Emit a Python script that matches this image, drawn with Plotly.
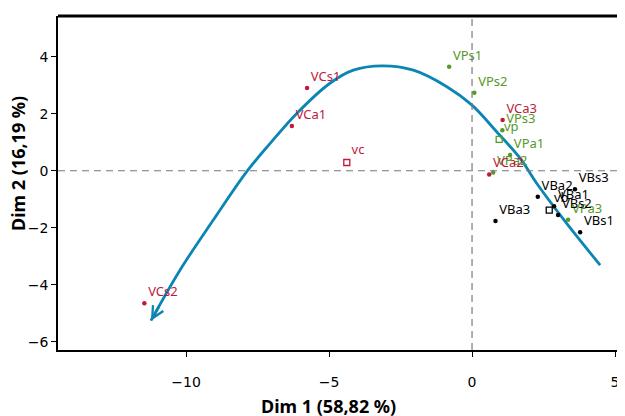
import plotly.graph_objects as go

# ---- data ----
red_names = ["VCs1", "VCa1", "VCa3", "VCa2", "VCs2"]
red_x = [-5.77, -6.30, 1.07, 0.60, -11.46]
red_y = [2.90, 1.57, 1.78, -0.13, -4.65]

green_names = ["VPs1", "VPs2", "VPs3", "VPa1", "VPa2", "VPa3"]
green_x = [-0.80, 0.08, 1.06, 1.33, 0.74, 3.36]
green_y = [3.65, 2.74, 1.42, 0.55, -0.06, -1.72]

black_names = ["VBa1", "VBa2", "VBa3", "VBs1", "VBs2", "VBs3"]
black_x = [2.87, 2.30, 0.82, 3.78, 3.01, 3.60]
black_y = [-1.25, -0.91, -1.76, -2.16, -1.55, -0.65]

centre_names = ["vp", "vb", "vc"]
centre_x = [0.95, 2.70, -4.38]
centre_y = [1.10, -1.38, 0.29]

curve_x = [4.48, 3.31, 2.26, 1.68, 0.86, -0.01, -0.88, -2.05, -3.15, -4.15,
           -4.97, -6.13, -7.06, -7.88, -9.05, -10.21, -11.23]
curve_y = [-3.31, -1.85, -0.44, 0.44, 1.37, 2.31, 2.95, 3.53, 3.68, 3.53,
           3.07, 2.01, 0.96, -0.03, -1.73, -3.48, -5.26]

x_ticks = [-10, -5, 0, 5]
y_ticks = [-6, -4, -2, 0, 2, 4]
x_title = "Dim 1 (58,82 %)"
y_title = "Dim 2 (16,19 %)"

RED = "#be1a3c"
GREEN = "#559a2a"
BLACK = "#000000"
BLUE = "#0b86b4"
FONT = "Noto Sans, sans-serif"
TICKFONT = "DejaVu Sans, sans-serif"

fig = go.Figure()

# curve
fig.add_trace(go.Scatter(x=curve_x, y=curve_y, mode="lines",
                         line=dict(color=BLUE, width=2.8, shape="spline", smoothing=1.0),
                         hoverinfo="skip", showlegend=False))


def pts(xs, ys, names, color, symbol, size, lw):
    fig.add_trace(go.Scatter(
        x=xs, y=ys, mode="markers+text", text=names, textposition="top right",
        textfont=dict(color=color, size=13, family=FONT),
        marker=dict(color=color, symbol=symbol, size=size,
                    line=dict(color=color, width=lw)),
        showlegend=False))


pts(green_x, green_y, green_names, GREEN, "circle", 4.5, 0)
pts([centre_x[0]], [centre_y[0]], [centre_names[0]], GREEN, "square-open", 6, 1.3)
pts(black_x, black_y, black_names, BLACK, "circle", 4.5, 0)
pts([centre_x[1]], [centre_y[1]], [centre_names[1]], BLACK, "square-open", 6, 1.3)
pts(red_x, red_y, red_names, RED, "circle", 4.5, 0)
pts([centre_x[2]], [centre_y[2]], [centre_names[2]], RED, "square-open", 6, 1.3)

# arrow head at end of curve
tip_x, tip_y = curve_x[-1], curve_y[-1]
tail_x = tip_x + 0.3 * (curve_x[-2] - curve_x[-1])
tail_y = tip_y + 0.3 * (curve_y[-2] - curve_y[-1])
fig.add_annotation(x=tip_x, y=tip_y, ax=tail_x, ay=tail_y, xref="x", yref="y",
                   axref="x", ayref="y", text="", showarrow=True, arrowhead=5,
                   arrowsize=0.9, arrowwidth=2.6, arrowcolor=BLUE)

# reference dashed lines
fig.add_hline(y=0, line=dict(color="#7a7a7a", width=1.2, dash="7px,5px"))
fig.add_vline(x=0, line=dict(color="#7a7a7a", width=1.2, dash="7px,5px"))

# top border
fig.add_shape(type="line", xref="paper", yref="paper", x0=0, x1=1, y0=1, y1=1,
              line=dict(color="black", width=3))

fig.add_annotation(text="<b>" + x_title + "</b>", xref="paper", yref="paper",
                   x=0.48, y=-0.168, showarrow=False, yanchor="middle",
                   font=dict(size=18, family=FONT, color="black"))
fig.add_annotation(text="<b>" + y_title + "</b>", xref="paper", yref="paper",
                   x=-0.071, y=0.557, showarrow=False, textangle=-90,
                   xanchor="center", yanchor="middle",
                   font=dict(size=18, family=FONT, color="black"))

fig.update_xaxes(range=[-14.48, 5.21], tickvals=x_ticks, showgrid=False, zeroline=False,
                 showline=True, linecolor="black", linewidth=1.8, ticks="outside",
                 ticklen=5, tickwidth=1.2, tickcolor="black", automargin=False,
                 ticklabelstandoff=13,
                 tickfont=dict(size=14, family=TICKFONT, color="black"))
fig.update_yaxes(range=[-6.29, 5.43], tickvals=y_ticks, showgrid=False, zeroline=False,
                 showline=True, linecolor="black", linewidth=1.8, ticks="outside",
                 ticklen=5, tickwidth=1.2, tickcolor="black", automargin=False,
                 tickfont=dict(size=14, family=TICKFONT, color="black"))

# page body adds an 8px offset, so the figure is 8px smaller and margins shifted
fig.update_layout(width=617, height=408, plot_bgcolor="white", paper_bgcolor="white",
                  margin=dict(l=50, r=4, t=8, b=66), showlegend=False)

fig.write_html("out.html")
